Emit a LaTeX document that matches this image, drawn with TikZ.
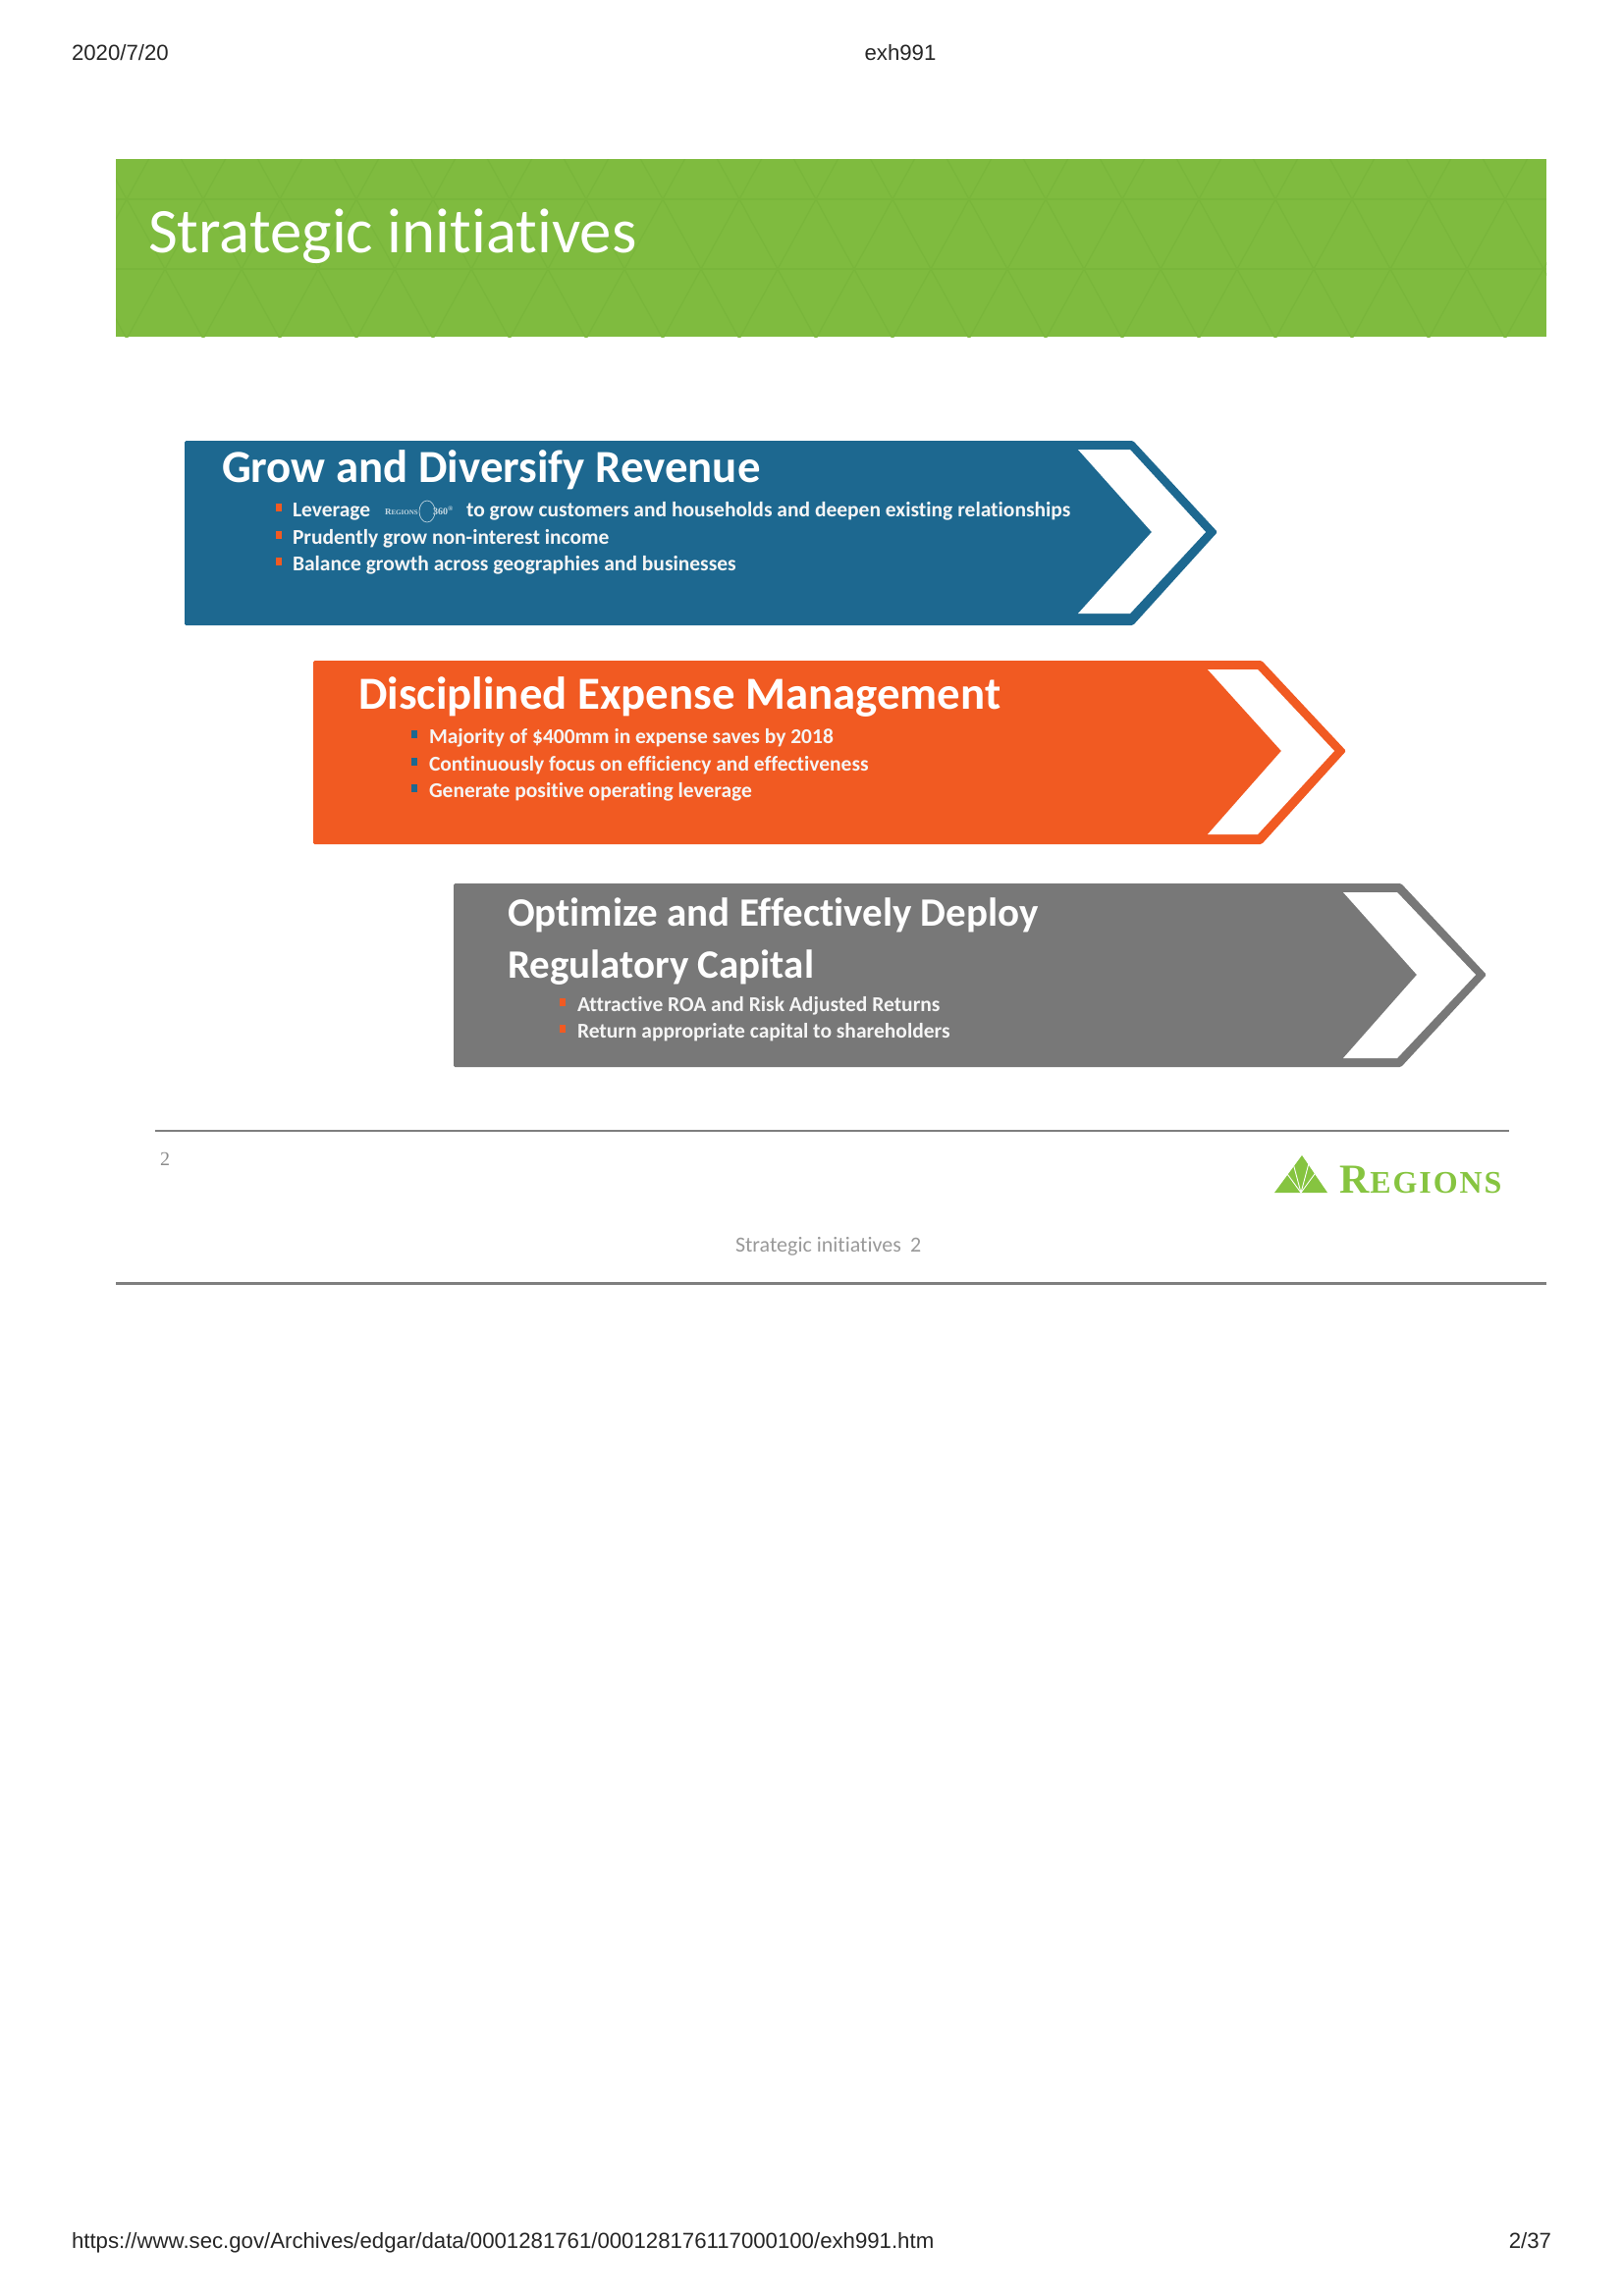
\documentclass[tikz,border=0pt]{standalone}
\usepackage{fontspec}
\setmainfont[Ligatures=NoCommon]{Carlito}
\newfontfamily\pagefont{Liberation Sans}
\newfontfamily\logofont{Liberation Serif}
\newfontfamily\logospaced[LetterSpace=6]{Liberation Serif}
\usetikzlibrary{positioning,calc}
\definecolor{bannergreen}{HTML}{7FBB3F}
\definecolor{latticegreen}{HTML}{79B63B}
\definecolor{growblue}{HTML}{1D6890}
\definecolor{expenseorange}{HTML}{F15A22}
\definecolor{capitalgrey}{HTML}{787878}
\definecolor{rulegrey}{HTML}{7F7F7F}
\definecolor{logogreen}{HTML}{86C440}

\begin{document}
\begin{tikzpicture}[
        x=1pt, y=-1pt,
        every node/.style={inner sep=0pt, outer sep=0pt},
        pagetext/.style={font=\pagefont\fontsize{22.2}{26}\selectfont, text=black!85, anchor=base},
        banner/.style={font=\fontsize{64.8}{75}\selectfont, text=white, anchor=base west},
        heading/.style={font=\bfseries\fontsize{46.8}{54}\selectfont, text=white, anchor=base west},
        narrowheading/.style={font=\bfseries\fontsize{41}{48}\selectfont, text=white, anchor=base west},
        item/.style={font=\bfseries\fontsize{21.5}{25}\selectfont, text=white!96!black, anchor=base west},
        faint/.style={font=\fontsize{22}{26}\selectfont, text=black!40},
        notch/.style={fill=white}
    ]

    \useasboundingbox (0,0) rectangle (1653,2339);

    % page header and footer
    \node[pagetext, anchor=base west] (date) at (73,62) {2020/7/20};
    \node[pagetext] (doc) at (917,62) {exh991};
    \node[pagetext, anchor=base west] (url) at (73,2290) {https://www.sec.gov/Archives/edgar/data/0001281761/000128176117000100/exh991.htm};
    \node[pagetext, anchor=base east] (pageno) at (1580,2290) {2/37};

    % banner
    \fill[bannergreen] (118,162) rectangle (1575,343);
    \begin{scope}
        \clip (118,162) rectangle (1575,343);
        \foreach \k in {-4,...,22} {
            \draw[latticegreen, line width=1.2pt] (\k*78+28.5,162) -- ++(197.6,360);
            \draw[latticegreen, line width=1.2pt] (\k*78+73.5,162) -- ++(-197.6,360);
        }
        \draw[latticegreen, line width=2pt] (118,203) -- (1575,203);
        \draw[latticegreen, line width=2pt] (118,274) -- (1575,274);
    \end{scope}
    \node[banner] (title) at (151,257) {Strategic initiatives};

    % blue arrow
    \fill[growblue, rounded corners=1.5pt] (188,449) -- (1154,449) -- (1240,542) -- (1154,637) -- (188,637) -- cycle;
    \fill[notch] (1098,458) -- (1151,458) -- (1228,542) -- (1151,625) -- (1098,625) -- (1173,542) -- cycle;
    \node[heading] (grow) at (226,491) {Grow and Diversify Revenue};
    \node[item] (growa) at (298,526) {Leverage};
    \node[item] (growa2) at (475,526) {to grow customers and households and deepen existing relationships};
    \node[item, below=28pt of growa.base west, anchor=base west] (growb) {Prudently grow non-interest income};
    \node[item, below=27pt of growb.base west, anchor=base west] (growc) {Balance growth across geographies and businesses};
    \foreach \n in {growa,growb,growc}
        \fill[expenseorange] ($(\n.base west)+(-17,-13)$) rectangle ++(6,8);
    \node[font=\logofont\bfseries\fontsize{9}{9}\selectfont, text=white!75!growblue, anchor=base west] (small) at (392,524) {R{\fontsize{7}{9}\selectfont EGIONS}};
    \draw[white!70!growblue, line width=0.7pt] (435,521) circle (8 and 11);
    \node[font=\logofont\bfseries\fontsize{10}{10}\selectfont, text=white!75!growblue, anchor=base west] (num) at (441,524) {360\textsuperscript{®}};

    % orange arrow
    \fill[expenseorange, rounded corners=1.5pt] (319,673) -- (1285,673) -- (1371,765) -- (1285,860) -- (319,860) -- cycle;
    \fill[notch] (1230,682) -- (1281,682) -- (1359,765) -- (1281,850) -- (1230,850) -- (1305,765) -- cycle;
    \node[heading] (disc) at (365,722) {Disciplined Expense Management};
    \node[item] (disca) at (437,757) {Majority of \$400mm in expense saves by 2018};
    \node[item, below=28pt of disca.base west, anchor=base west] (discb) {Continuously focus on efficiency and effectiveness};
    \node[item, below=27pt of discb.base west, anchor=base west] (discc) {Generate positive operating leverage};
    \foreach \n in {disca,discb,discc}
        \fill[growblue] ($(\n.base west)+(-18,-13)$) rectangle ++(6,8);

    % grey arrow
    \fill[capitalgrey, rounded corners=1.5pt] (462,900) -- (1427,900) -- (1514,993) -- (1427,1087) -- (462,1087) -- cycle;
    \fill[notch] (1368,909) -- (1423,909) -- (1503,993) -- (1423,1078) -- (1368,1078) -- (1443,993) -- cycle;
    \node[narrowheading] (opt) at (517,943.5) {Optimize and Effectively Deploy};
    \node[narrowheading, below=53pt of opt.base west, anchor=base west] (reg) {Regulatory Capital};
    \node[item] (opta) at (588,1030) {Attractive ROA and Risk Adjusted Returns};
    \node[item, below=27pt of opta.base west, anchor=base west] (optb) {Return appropriate capital to shareholders};
    \foreach \n in {opta,optb}
        \fill[expenseorange] ($(\n.base west)+(-18,-13)$) rectangle ++(6,8);

    % footer of the slide
    \draw[rulegrey, line width=2pt] (158,1152) -- (1537,1152);
    \node[font=\logofont\fontsize{20}{24}\selectfont, text=black!45, anchor=base west] (slideno) at (163,1187) {2};
    \fill[logogreen] (1298,1215) -- (1326,1177) -- (1352,1215) -- cycle;
    \foreach \a in {-22,-8,8,22}
        \draw[white, line width=0.9pt] (1325,1215) -- ++(\a,-30);
    \node[font=\logofont\bfseries\fontsize{42}{44}\selectfont, text=logogreen, anchor=base west] (logoR) at (1364,1215) {R};
    \node[font=\logospaced\bfseries\fontsize{32}{44}\selectfont, text=logogreen, anchor=base west, right=1pt of logoR.base east, anchor=base west] (logotext) {EGIONS};
    \node[faint, anchor=base west] (caption) at (749,1275) {Strategic initiatives\hspace{0.2em} 2};
    \draw[rulegrey, line width=3pt] (118,1307) -- (1575,1307);

\end{tikzpicture}
\end{document}
